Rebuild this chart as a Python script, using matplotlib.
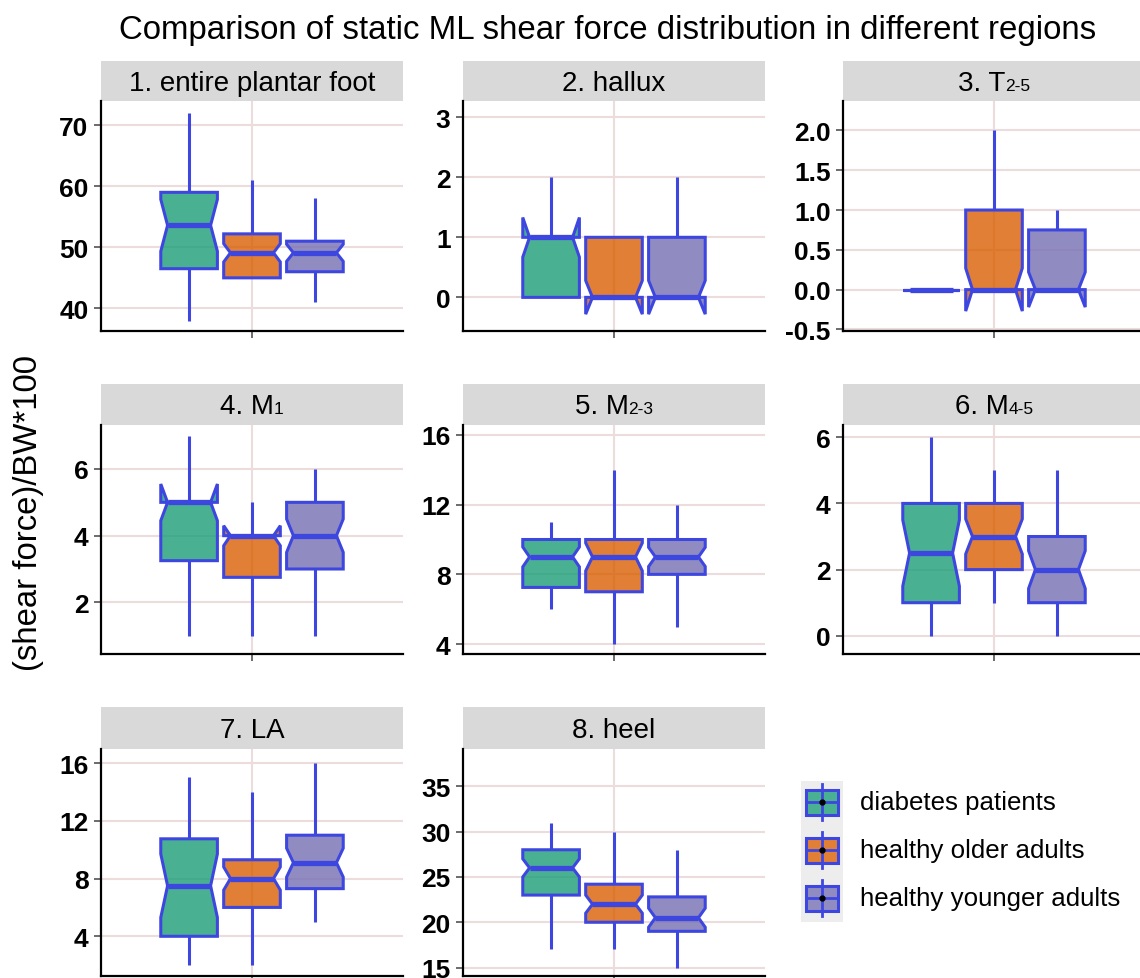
import matplotlib
matplotlib.use("Agg")
import numpy as np
import matplotlib.pyplot as plt
from matplotlib.colors import to_rgba
from matplotlib.patches import Rectangle
from matplotlib.lines import Line2D
from matplotlib.path import Path
from matplotlib.offsetbox import TextArea, HPacker, AnchoredOffsetbox
from matplotlib.ticker import FormatStrFormatter, FixedLocator

W, H, DPI = 1140, 979, 100
FONT = "Liberation Sans"
plt.rcParams["font.family"] = [FONT, "DejaVu Sans"]

# ---------------- data ----------------
title = "Comparison of static ML shear force distribution in different regions"
ylabel = "(shear force)/BW*100"
groups = ["diabetes patients", "healthy older adults", "healthy younger adults"]
fill_colors = ["#1b9e77", "#d95f02", "#7570b3"]
edge_color = "#3e46e0"

region_main = ["1. entire plantar foot", "2. hallux", "3. T", "4. M", "5. M", "6. M", "7. LA", "8. heel"]
region_sub = ["", "", "2-5", "1", "2-3", "4-5", "", ""]

# per region: [diabetes, older, younger]
whislo = [[38, 45, 41], [0, 0, 0], [0, 0, 0], [1, 1, 1], [6, 4, 5], [0, 1, 0], [2, 2, 5], [17, 17, 15]]
q1 = [[46.5, 45, 46], [0, 0, 0], [0, 0, 0], [3.25, 2.75, 3], [7.25, 7, 8], [1, 2, 1], [4, 6, 7.3], [23, 20, 19]]
med = [[53.6, 49.1, 49.1], [1, 0, 0], [0, 0, 0], [5, 4, 4], [9, 9, 9], [2.5, 3, 2], [7.5, 8, 9.1], [26, 22, 20.5]]
q3 = [[59, 52.2, 51], [1, 1, 1], [0, 1, 0.75], [5, 4, 5], [10, 10, 10], [4, 4, 3], [10.75, 9.3, 11], [28, 24.2, 22.8]]
whishi = [[72, 61, 58], [2, 1, 2], [0, 2, 1], [7, 5, 6], [11, 14, 12], [6, 5, 5], [15, 14, 16], [31, 30, 28]]
notch_half = [[4.25, 1.5, 1.4], [0.33, 0.28, 0.28], [0, 0.27, 0.22], [0.55, 0.3, 0.5],
              [0.57, 0.8, 0.55], [1.0, 0.53, 0.57], [2.2, 0.8, 1.0], [1.0, 1.0, 1.05]]

yticks = [[40, 50, 60, 70], [0, 1, 2, 3], [-0.5, 0, 0.5, 1, 1.5, 2], [2, 4, 6],
          [4, 8, 12, 16], [0, 2, 4, 6], [4, 8, 12, 16], [15, 20, 25, 30, 35]]
ylims = [(36.3, 73.95), (-0.56, 3.27), (-0.52, 2.37), (0.45, 7.32),
         (3.43, 16.57), (-0.55, 6.37), (1.25, 16.97), (14.07, 39.12)]
yfmt = ["%g", "%g", "%.1f", "%g", "%g", "%g", "%g", "%g"]

# ---------------- layout (pixels) ----------------
col_left = [101, 463, 843]
panel_w = 302
strip_top = [62, 385, 708]
ax_top = [102, 426, 750]
ax_bot = [332, 655, 977]

grid_col = "#ecdcdc"
positions = [0.75, 1.0, 1.25]
box_w = 0.225
notch_frac = 0.38   # half-width of box at the median notch, as a fraction of box width

fig = plt.figure(figsize=(W / DPI, H / DPI), dpi=DPI)
fig.patch.set_facecolor("white")


def frac_rect(l, t, w, h):
    return [l / W, 1 - (t + h) / H, w / W, h / H]


for i in range(8):
    r, c = divmod(i, 3)
    l = col_left[c]
    # strip
    sax = fig.add_axes(frac_rect(l, strip_top[r], panel_w, ax_top[r] - strip_top[r]))
    sax.set_facecolor("#d9d9d9")
    sax.set_xticks([])
    sax.set_yticks([])
    for s in sax.spines.values():
        s.set_visible(False)
    children = [TextArea(region_main[i], textprops=dict(fontsize=20, color="black", family=FONT))]
    if region_sub[i]:
        children.append(TextArea(region_sub[i], textprops=dict(fontsize=12.5, color="black", family=FONT)))
    pk = HPacker(children=children, align="baseline", pad=0, sep=0)
    ab = AnchoredOffsetbox(loc="center", child=pk, frameon=False, pad=0, borderpad=0,
                           bbox_to_anchor=(0.5, 0.46), bbox_transform=sax.transAxes)
    sax.add_artist(ab)

    # panel
    ax = fig.add_axes(frac_rect(l, ax_top[r], panel_w, ax_bot[r] - ax_top[r]))
    ax.set_facecolor("white")
    stats = []
    for g in range(3):
        stats.append(dict(med=med[i][g], q1=q1[i][g], q3=q3[i][g],
                          whislo=whislo[i][g], whishi=whishi[i][g],
                          cilo=med[i][g] - notch_half[i][g], cihi=med[i][g] + notch_half[i][g],
                          fliers=[]))
    bp = ax.bxp(stats, positions=positions, widths=box_w, shownotches=True, patch_artist=True,
                showcaps=False, showfliers=False, manage_ticks=False,
                boxprops=dict(edgecolor=edge_color, linewidth=2.2),
                whiskerprops=dict(color=edge_color, linewidth=2.2, solid_capstyle="butt"),
                medianprops=dict(color=edge_color, linewidth=3.8, solid_capstyle="butt"))
    for g, patch in enumerate(bp["boxes"]):
        pos = positions[g]
        verts = np.array(patch.get_path().vertices, dtype=float)
        left, right = pos - box_w / 2, pos + box_w / 2
        inner = (verts[:, 0] > left + 1e-9) & (verts[:, 0] < right - 1e-9)
        verts[inner & (verts[:, 0] > pos), 0] = pos + notch_frac * box_w
        verts[inner & (verts[:, 0] < pos), 0] = pos - notch_frac * box_w
        patch.set_path(Path(verts, patch.get_path().codes))
        patch.set_facecolor(to_rgba(fill_colors[g], 0.8))
        patch.set_edgecolor(edge_color)
        patch.set_joinstyle("miter")
        bp["medians"][g].set_xdata([pos - notch_frac * box_w, pos + notch_frac * box_w])
    ax.set_xlim(0.4, 1.6)
    ax.set_ylim(*ylims[i])
    ax.yaxis.set_major_locator(FixedLocator(yticks[i]))
    ax.yaxis.set_major_formatter(FormatStrFormatter(yfmt[i]))
    ax.set_xticks([1])
    ax.set_xticklabels([""])
    ax.set_axisbelow(True)
    ax.grid(True, color=grid_col, linewidth=1.5)
    for side in ["top", "right"]:
        ax.spines[side].set_visible(False)
    for side in ["left", "bottom"]:
        ax.spines[side].set_color("black")
        ax.spines[side].set_linewidth(1.6)
    ax.tick_params(axis="both", length=4.8, width=1.1, color="#444444", pad=4.2)
    for lab in ax.get_yticklabels():
        lab.set_fontsize(19)
        lab.set_fontweight("bold")
        lab.set_color("black")

# title and y label
fig.text(608 / W, 1 - 31 / H, title, ha="center", va="center", fontsize=23.8, color="black")
fig.text(29 / W, 1 - 513 / H, ylabel, ha="center", va="center", rotation=90, fontsize=23.7, color="black")

# legend (overlay axes in pixel coordinates)
lax = fig.add_axes([0, 0, 1, 1])
lax.set_xlim(0, W)
lax.set_ylim(H, 0)
lax.axis("off")
lax.patch.set_visible(False)
lax.add_patch(Rectangle((800.7, 781.7), 42, 141.6, facecolor="#ededed", edgecolor="none"))
for g, name in enumerate(groups):
    cy = 803.3 + 48 * g
    cx = 821.7
    lax.add_line(Line2D([cx, cx], [cy - 18, cy + 18], color=edge_color, linewidth=2.0))
    lax.add_patch(Rectangle((806, cy - 12.5), 32, 25, facecolor="white", edgecolor="none"))
    lax.add_patch(Rectangle((806, cy - 12.5), 32, 25, facecolor=to_rgba(fill_colors[g], 0.8),
                            edgecolor=edge_color, linewidth=2.2))
    lax.add_line(Line2D([806, 838], [cy, cy], color=edge_color, linewidth=2.0))
    lax.plot([cx], [cy], marker="o", color="black", markersize=3.5)
    lax.text(860, cy, name, ha="left", va="center", fontsize=18.6, color="black")

fig.savefig("out.png", dpi=DPI)
